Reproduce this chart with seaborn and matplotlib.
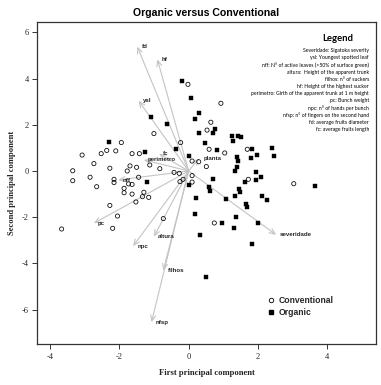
import matplotlib
matplotlib.use("Agg")
import matplotlib.pyplot as plt
import seaborn as sns
import pandas as pd
from matplotlib.lines import Line2D

# ---------------- data ----------------
conv_pc1 = [-3.66, -3.34, -3.34, -3.07, -2.84, -2.73, -2.65, -2.52, -2.36, -2.27, -2.27, -2.15,
            -2.15, -2.19, -2.10, -2.05, -1.94, -1.86, -1.86, -1.77, -1.69, -1.73, -1.63, -1.63,
            -1.63, -1.50, -1.44, -1.42, -1.52, -1.33, -1.29, -1.15, -1.12, -1.00, -0.83, -0.73,
            -0.42, -0.27, -0.23, -0.25, -0.16, 0.10, 0.10, 0.10, 0.29,
            -0.02, 0.93, 0.64, 0.53, 0.59, 1.04, 1.69, 0.51, 1.72, 3.03, 0.74]
conv_pc2 = [-2.51, 0.01, -0.42, 0.69, -0.27, 0.32, -0.68, 0.75, 0.89, 0.12, -1.49, -0.36,
            -0.50, -2.48, 0.87, -1.95, 1.23, -0.75, -0.94, 0.00, 0.22, -0.56, -0.58, -1.00,
            0.75, 0.16, -0.27, 0.75, -1.34, -1.11, -0.92, -1.14, 0.26, 1.62, 0.10, -2.06,
            -0.06, -0.10, 1.23, -0.46, -0.36, 0.43, -0.20, -0.48, 0.40,
            3.75, 2.93, 2.11, 1.77, 0.94, 0.78, 0.94, 0.19, -0.36, -0.55, -2.25]

org_pc1 = [-2.29, -1.25, -1.21, -1.08, -0.62, -0.35, 0.02, 0.00, 0.06, 0.17, 0.29, 0.29,
           0.21, 0.19, 0.32, -0.18, 0.77, 0.71, 1.24, 1.42, 1.50, 1.29, 0.47, 0.81,
           1.82, 2.39, 1.38, 1.98, 1.80, 1.42, 2.45, 1.38, 1.33, 1.95, 2.09, 0.69,
           1.94, 1.63, 0.59, 3.64, 1.44, 0.63, 1.47, 1.35, 2.11, 2.25, 1.07, 1.65,
           1.67, 1.36, 0.97, 1.31, 2.00, 1.83, 0.49]
org_pc2 = [1.24, 0.84, -0.46, 2.34, 2.02, 0.95, 0.66, -0.62, 3.16, 2.25, 2.50, 1.63,
           -1.18, -1.86, -2.75, 3.91, 1.82, 1.66, 1.52, 1.50, 1.47, 1.31, 1.23, 0.91,
           0.95, 0.98, 0.59, 0.69, 0.56, 0.43, 0.64, 0.19, 0.00, -0.04, -0.25, -0.33,
           -0.40, -0.48, -0.69, -0.66, -0.78, -0.87, -0.89, -1.07, -1.10, -1.26, -1.23, -1.44,
           -1.57, -1.98, -2.25, -2.48, -2.25, -3.16, -4.59]

var_names = ["fd", "hf", "ysl", "fc", "perimetro", "planta", "nff", "pc", "npc",
             "altura", "filhos", "nfsp", "severidade"]
load_pc1 = [-1.48, -0.90, -1.44, -0.85, -1.29, 0.30, -2.03, -2.73, -1.60, -1.00, -0.73, -1.07, 2.52]
load_pc2 = [5.38, 4.83, 3.04, 0.74, 0.48, 0.55, -0.39, -2.26, -3.25, -2.84, -4.31, -6.54, -2.76]

legend_lines = [
    "Severidade: Sigatoka severity",
    "ysl: Youngest spotted leaf",
    "nff: N\u00b0 of active leaves (>50% of surface green)",
    "altura:  Height of the apparent trunk",
    "filhos: n\u00b0 of suckers",
    "hf: Height of the highest sucker",
    "perimetro: Girth of the apparent trunk at 1 m height",
    "pc: Bunch weight",
    "npc: n\u00b0 of hands per bunch",
    "nfsp: n\u00b0 of fingers on the second hand",
    "fd: average fruits diameter",
    "fc: average fruits length",
]

x_ticks = [-4, -2, 0, 2, 4]
y_ticks = [-6, -4, -2, 0, 2, 4, 6]

# ---------------- styling ----------------
sns.set_theme(style="white")
plt.rcParams["font.family"] = ["Liberation Sans", "DejaVu Sans"]

fig = plt.figure(figsize=(3.81, 3.85), dpi=100)
ax = fig.add_axes([0.098, 0.1057, 0.888, 0.8373])

df = pd.concat([
    pd.DataFrame({"pc1": conv_pc1, "pc2": conv_pc2, "group": "Conventional"}),
    pd.DataFrame({"pc1": org_pc1, "pc2": org_pc2, "group": "Organic"}),
], ignore_index=True)

# arrows (loadings)
arrow_col = "#c4c4c4"
for name, lx, ly in zip(var_names, load_pc1, load_pc2):
    ax.annotate("", xy=(lx, ly), xytext=(0, 0),
                arrowprops=dict(arrowstyle="->,head_length=0.4,head_width=0.18",
                                color=arrow_col, lw=0.8, shrinkA=0, shrinkB=0,
                                mutation_scale=10), zorder=1)
    ax.annotate(name, xy=(lx, ly), xytext=(3, 0), textcoords="offset points",
                ha="left", va="center", fontsize=4.4, fontweight="bold",
                color="#262626", zorder=4)

sns.scatterplot(data=df[df.group == "Conventional"], x="pc1", y="pc2", ax=ax,
                marker="o", s=9, facecolor="none", edgecolor="black",
                linewidth=0.55, zorder=3, legend=False)
sns.scatterplot(data=df[df.group == "Organic"], x="pc1", y="pc2", ax=ax,
                marker="s", s=9, color="black", edgecolor="black",
                linewidth=0.3, zorder=3, legend=False)

ax.set_xlim(-4.36, 5.39)
ax.set_ylim(-7.5, 6.45)
ax.set_xticks(x_ticks)
ax.set_yticks(y_ticks)
ax.set_xticklabels([str(v) for v in x_ticks], family="Liberation Serif", fontsize=6)
ax.set_yticklabels([str(v) for v in y_ticks], family="Liberation Serif", fontsize=6)
ax.tick_params(axis="both", which="both", direction="out", length=3.5, width=0.7,
               color="#333333", pad=2.5, bottom=True, left=True)
for sp in ax.spines.values():
    sp.set_visible(True)
    sp.set_color("#333333")
    sp.set_linewidth(0.9)

ax.set_xlabel("First principal component", family="Liberation Serif",
              fontweight="bold", fontsize=6.2, labelpad=6)
ax.set_ylabel("Second principal component", family="Liberation Serif",
              fontweight="bold", fontsize=6.2, labelpad=4)
ax.grid(False)

fig.text(0.542, 0.966, "Organic versus Conventional", ha="center", va="center",
         fontsize=7.6, fontweight="bold", color="black")

# Legend text block (top right)
fig.text(0.887, 0.899, "Legend", ha="center", va="center", fontsize=6.8,
         fontweight="bold", family="Lato", color="black")
for i, line in enumerate(legend_lines):
    fig.text(0.9685, 0.8683 - i * 0.01857, line, ha="right", va="center",
             fontsize=3.7, family="Lato", color="black")

handles = [
    Line2D([], [], marker="o", linestyle="none", markersize=3.2,
           markerfacecolor="none", markeredgecolor="black", markeredgewidth=0.6),
    Line2D([], [], marker="s", linestyle="none", markersize=3.0,
           markerfacecolor="black", markeredgecolor="black"),
]
leg = fig.legend(handles, ["Conventional", "Organic"], loc="upper left",
                 bbox_to_anchor=(0.6877, 0.2416), frameon=False, borderpad=0,
                 handlelength=1.0, handletextpad=0.4, labelspacing=0.35,
                 prop={"size": 6.2, "weight": "bold", "family": "Liberation Sans"})

fig.savefig("out.png", dpi=100)
